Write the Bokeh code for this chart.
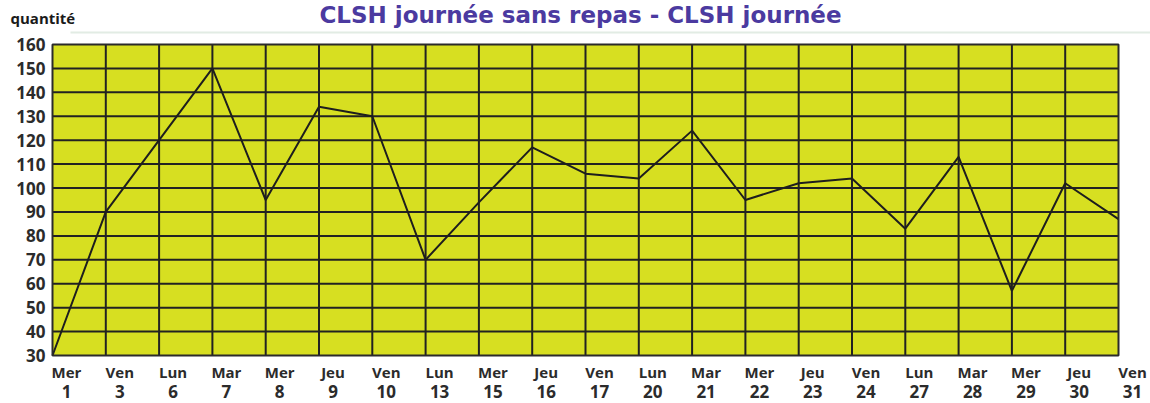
from bokeh.plotting import figure
from bokeh.models import Range1d
from bokeh.core.properties import value
from bokeh.embed import file_html
from bokeh.resources import INLINE

# ---- data ----
days = ["Mer", "Ven", "Lun", "Mar", "Mer", "Jeu", "Ven", "Lun", "Mer", "Jeu", "Ven",
        "Lun", "Mar", "Mer", "Jeu", "Ven", "Lun", "Mar", "Mer", "Jeu", "Ven"]
dates = ["1", "3", "6", "7", "8", "9", "10", "13", "15", "16", "17",
         "20", "21", "22", "23", "24", "27", "28", "29", "30", "31"]
quantite = [30, 90, 120, 150, 95, 134, 130, 70, 94, 117, 106,
            104, 124, 95, 102, 104, 83, 113, 57, 102, 87]
y_ticks = list(range(30, 161, 10))
y_labels = [str(v) for v in y_ticks]
title_text = "CLSH journée sans repas - CLSH journée"
y_title = "quantité"

# ---- style / layout (pixels) ----
W, H = 1150, 403
LEFT, RIGHT = 52, 1118        # chart area in canvas px
TOP, BOTTOM = 44, 355
YELLOW = "#d7df21"
GRID = "#222222"
TXT = "#2b2b2b"
PURPLE = "#4b3aa0"
FONT = value("Open Sans")

n = len(days)
xs = list(range(n))
y0, y1 = y_ticks[0], y_ticks[-1]
PX_X = (RIGHT - LEFT) / (n - 1)
PX_Y = (BOTTOM - TOP) / (y1 - y0)

x_range = Range1d(-LEFT / PX_X, (W - LEFT) / PX_X)
y_range = Range1d(y0 - (H - BOTTOM) / PX_Y, y1 + TOP / PX_Y)

p = figure(width=W, height=H, x_range=x_range, y_range=y_range,
           output_backend="svg", toolbar_location=None,
           x_axis_location=None, y_axis_location=None,
           min_border=0)
p.grid.visible = False
p.outline_line_color = None
p.background_fill_color = "white"
p.border_fill_color = "white"

# chart area
p.quad(left=xs[0], right=xs[-1], bottom=y0, top=y1, fill_color=YELLOW, line_color=None)
# grid
p.segment(x0=xs[1:-1], y0=y0, x1=xs[1:-1], y1=y1, line_color=GRID, line_width=2)
p.segment(x0=xs[0], y0=y_ticks[1:-1], x1=xs[-1], y1=y_ticks[1:-1], line_color=GRID, line_width=2)
# data line
p.line(xs, quantite, line_color="#1e1e1e", line_width=2)
# border
p.quad(left=xs[0], right=xs[-1], bottom=y0, top=y1, fill_color=None,
       line_color="#2b2b2b", line_width=2)

# y tick labels
p.text(x=xs[0], y=y_ticks, text=y_labels, x_offset=-7,
       text_align="right", text_baseline="middle",
       text_font=FONT, text_font_style="bold", text_font_size="17px", text_color=TXT)
# x labels (day name + date)
p.text(x=xs, y=y0, text=days, x_offset=14, y_offset=16,
       text_align="center", text_baseline="middle",
       text_font=FONT, text_font_style="bold", text_font_size="15px", text_color=TXT)
p.text(x=xs, y=y0, text=dates, x_offset=14, y_offset=36,
       text_align="center", text_baseline="middle",
       text_font=FONT, text_font_style="bold", text_font_size="17px", text_color=TXT)

# separator above chart
sep_y = y1 + 12 / PX_Y
p.segment(x0=xs[0] + 18 / PX_X, y0=sep_y, x1=x_range.end, y1=sep_y,
          line_color="#e2ece4", line_width=2)

# title and y title
p.text(x=[(xs[0] + xs[-1]) / 2], y=[y1], text=[title_text], x_offset=-5, y_offset=-30,
       text_align="center", text_baseline="middle",
       text_font=value("DejaVu Sans"), text_font_style="bold", text_font_size="23px",
       text_color=PURPLE)
p.text(x=[xs[0]], y=[y1], text=[y_title], x_offset=-42, y_offset=-27,
       text_align="left", text_baseline="middle",
       text_font=FONT, text_font_style="bold", text_font_size="15px", text_color="#1a1a1a")

open("out.html", "w").write(file_html(p, INLINE))
